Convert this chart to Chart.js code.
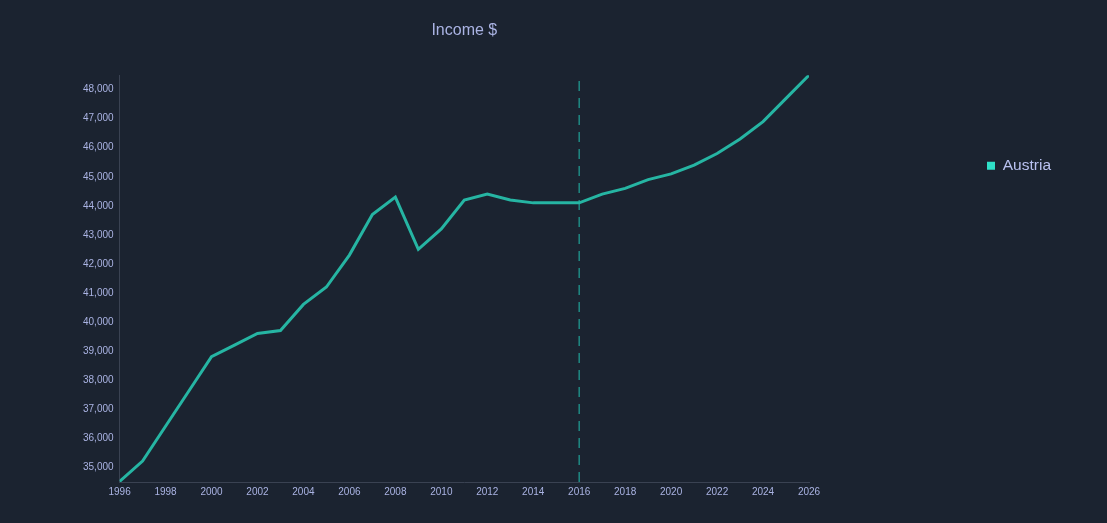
<!DOCTYPE html>
<html>
<head>
<meta charset="utf-8">
<script src="https://cdn.jsdelivr.net/npm/chart.js@4.4.1/dist/chart.umd.min.js"></script>
<style>
    html, body { margin: 0; padding: 0; background: #1b2330; }
    #wrap { width: 1107px; height: 523px; position: relative; }
</style>
</head>
<body>
<div id="wrap"><canvas id="incomeChart"></canvas></div>
<script>
const years = [1996, 1997, 1998, 1999, 2000, 2001, 2002, 2003, 2004, 2005, 2006,
    2007, 2008, 2009, 2010, 2011, 2012, 2013, 2014, 2015, 2016,
    2017, 2018, 2019, 2020, 2021, 2022, 2023, 2024, 2025, 2026];
const austriaIncome = [34500, 35200, 36400, 37600, 38800, 39200, 39600, 39700, 40600, 41200, 42300,
    43700, 44300, 42500, 43200, 44200, 44400, 44200, 44100, 44100, 44100,
    44400, 44600, 44900, 45100, 45400, 45800, 46300, 46900, 47700, 48500];
const incomeTicks = [35000, 36000, 37000, 38000, 39000, 40000, 41000,
    42000, 43000, 44000, 45000, 46000, 47000, 48000];
const projectionYear = 2016;
const yMin = 34480;
const yMax = 48500;

const textColor = '#aab3e3';
const fontFamily = "'Helvetica Neue', Helvetica, Arial, sans-serif";

document.addEventListener('DOMContentLoaded', () => {
    const ctx = document.getElementById('incomeChart');

    new Chart(ctx, {
        type: 'line',
        data: {
            datasets: [
                {
                    label: 'Austria',
                    data: years.map((y, i) => ({ x: y, y: austriaIncome[i] })),
                    borderColor: '#26b5a3',
                    backgroundColor: '#2fe0c8',
                    borderWidth: 3,
                    pointRadius: 0,
                    tension: 0,
                    fill: false,
                },
                {
                    label: 'projection',
                    data: [{ x: projectionYear, y: yMin }, { x: projectionYear, y: yMax }],
                    borderColor: '#1f8a84',
                    borderWidth: 1.5,
                    borderDash: [10, 7],
                    pointRadius: 0,
                    fill: false,
                },
            ],
        },
        options: {
            responsive: true,
            maintainAspectRatio: false,
            animation: false,
            layout: { padding: { left: 77, right: 46, top: 0, bottom: 21 } },
            plugins: {
                title: {
                    display: true,
                    text: 'Income $',
                    color: textColor,
                    fullSize: false,
                    font: { family: fontFamily, size: 16, weight: 'normal' },
                    padding: { top: 21, bottom: 35 },
                },
                legend: {
                    position: 'right',
                    align: 'start',
                    maxWidth: 300,
                    labels: {
                        color: '#b9c1f0',
                        font: { family: fontFamily, size: 15.5 },
                        boxWidth: 8,
                        boxHeight: 8,
                        padding: 158,
                        generateLabels: (chart) => Chart.defaults.plugins.legend.labels
                            .generateLabels(chart)
                            .filter((item) => item.datasetIndex === 0)
                            .map((item) => ({ ...item, lineWidth: 0, fillStyle: '#2fe0c8' })),
                    },
                },
                tooltip: { enabled: false },
            },
            scales: {
                x: {
                    type: 'linear',
                    min: 1996,
                    max: 2026,
                    grid: { display: false, drawTicks: false },
                    border: { color: '#3a4252' },
                    ticks: {
                        stepSize: 2,
                        maxTicksLimit: 20,
                        padding: 4,
                        color: textColor,
                        font: { family: fontFamily, size: 10 },
                        callback: (value) => String(value),
                    },
                },
                y: {
                    min: yMin,
                    max: yMax,
                    grid: { display: false, drawTicks: false },
                    border: { color: '#3a4252' },
                    afterBuildTicks: (scale) => {
                        scale.ticks = incomeTicks.map((value) => ({ value }));
                    },
                    ticks: {
                        padding: 6,
                        color: textColor,
                        font: { family: fontFamily, size: 10 },
                        callback: (value) => Number(value).toLocaleString('en-US'),
                    },
                },
                gap: {
                    type: 'linear',
                    position: 'right',
                    grid: { display: false },
                    border: { display: false },
                    ticks: { display: false },
                    afterFit: (scale) => { scale.width = 20; },
                },
            },
        },
    });
});
</script>
</body>
</html>
